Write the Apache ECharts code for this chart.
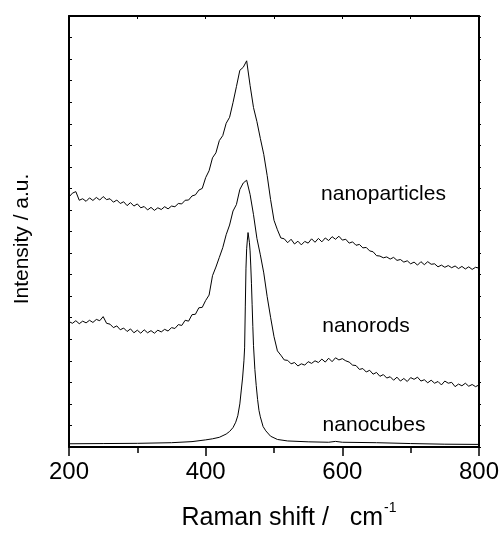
<!DOCTYPE html>
<html>
<head>
<meta charset="utf-8">
<script src="https://cdn.jsdelivr.net/npm/echarts@6/dist/echarts.min.js"></script>
<style>html,body{margin:0;padding:0;background:#fff}#c{width:504px;height:536px}</style>
</head>
<body>
<div id="c"></div>
<script>
// Raman shift grid (cm^-1) for the two broad spectra
var shift = [200,205,210,215,220,225,230,235,240,245,250,255,260,265,270,275,280,285,290,295,
300,305,310,315,320,325,330,335,340,345,350,355,360,365,370,375,380,385,390,395,
400,405,410,415,420,425,430,435,440,445,450,455,460,465,470,475,480,485,490,495,
500,505,510,515,520,525,530,535,540,545,550,555,560,565,570,575,580,585,590,595,
600,605,610,615,620,625,630,635,640,645,650,655,660,665,670,675,680,685,690,695,
700,705,710,715,720,725,730,735,740,745,750,755,760,765,770,775,780,785,790,795,800];

var nanoparticles = [11.60,11.78,11.85,11.45,11.52,11.40,11.56,11.44,11.58,11.46,11.62,11.48,11.52,11.36,11.46,11.30,11.38,11.20,11.34,11.18,
11.28,11.10,11.16,11.00,11.12,10.98,11.10,11.02,11.15,11.05,11.18,11.15,11.30,11.28,11.45,11.46,11.65,11.70,11.92,12.00,
12.50,12.82,13.42,13.65,14.22,14.45,15.02,15.30,15.98,16.72,17.48,17.62,17.92,16.78,15.75,15.10,14.32,13.58,12.60,11.48,
10.52,10.08,9.70,9.66,9.48,9.64,9.42,9.55,9.38,9.54,9.46,9.66,9.50,9.68,9.52,9.70,9.58,9.76,9.64,9.78,
9.60,9.64,9.46,9.52,9.36,9.40,9.24,9.26,9.10,9.06,8.88,8.86,8.78,8.82,8.72,8.80,8.66,8.70,8.58,8.64,
8.50,8.58,8.44,8.60,8.46,8.60,8.48,8.50,8.36,8.44,8.34,8.42,8.32,8.40,8.28,8.38,8.26,8.36,8.24,8.34,8.30];

var nanorods = [5.82,5.74,5.86,5.72,5.84,5.76,5.88,5.78,5.92,5.86,6.05,5.74,5.70,5.54,5.62,5.44,5.52,5.36,5.48,5.30,
5.42,5.28,5.44,5.30,5.40,5.28,5.42,5.34,5.46,5.38,5.54,5.50,5.68,5.64,5.88,5.84,6.14,6.16,6.46,6.48,
6.80,7.05,7.95,8.35,8.80,9.25,9.85,10.30,10.95,11.25,11.95,12.25,12.38,11.72,10.78,9.68,8.92,8.08,6.98,6.02,
5.12,4.46,4.26,4.04,4.02,3.86,3.92,3.76,3.86,3.80,3.96,3.88,4.00,3.92,4.08,3.94,4.12,3.96,4.14,4.04,
4.10,4.00,3.94,3.80,3.78,3.60,3.64,3.48,3.56,3.38,3.46,3.28,3.36,3.20,3.26,3.10,3.24,3.06,3.18,3.04,
3.22,3.14,3.24,3.06,3.12,2.98,3.10,2.96,3.04,2.88,3.06,2.96,3.00,2.80,2.92,2.84,2.96,2.82,2.90,2.80,2.88];

// Nanocubes: sharp peak, denser sampling near 462 cm^-1
var cubeShift = [200,250,300,350,380,400,410,420,430,435,440,444,447,450,452,454,456,457,458,459,
460,461,462,463,464,465,466,467,468,469,470,472,474,476,478,480,484,488,495,505,
520,550,580,590,600,650,700,750,800];
var nanocubes = [0.15,0.16,0.17,0.20,0.25,0.33,0.38,0.45,0.60,0.72,0.90,1.15,1.45,2.00,2.60,3.20,4.00,4.60,6.50,8.30,
9.20,9.60,9.95,9.90,9.50,9.10,8.40,7.60,6.60,5.60,4.70,3.60,2.85,2.20,1.70,1.40,0.95,0.75,0.50,0.35,
0.28,0.24,0.22,0.26,0.22,0.20,0.16,0.13,0.12];

var seriesNames = ['nanoparticles','nanorods','nanocubes'];
var xTitle = 'Raman shift /   cm';
var yTitle = 'Intensity / a.u.';

function pairs(xs, ys){ var out=[]; for(var i=0;i<xs.length;i++) out.push([xs[i], ys[i]]); return out; }

var FONT = '"Liberation Sans", Arial, sans-serif';
var chart = echarts.init(document.getElementById('c'), null, {renderer:'canvas'});
var axisLine = {show:true, onZero:false, lineStyle:{color:'#000', width:2}};

chart.setOption({
  animation:false,
  backgroundColor:'#fff',
  grid:{left:69, right:25, top:16, bottom:87, containLabel:false},
  xAxis:[{
    type:'value', min:200, max:800, interval:200, position:'bottom',
    axisLine:axisLine,
    axisTick:{show:true, inside:false, length:9, lineStyle:{color:'#000', width:1.5}},
    minorTick:{show:true, splitNumber:2, length:6, lineStyle:{color:'#000', width:1.5}},
    splitLine:{show:false},
    axisLabel:{color:'#000', fontSize:24, fontFamily:FONT, margin:13},
    name:'{a|' + xTitle + '}{b|-1}', nameLocation:'middle', nameGap:54,
    nameTextStyle:{color:'#000', fontFamily:FONT, padding:[0,0,0,30],
      rich:{a:{fontSize:25, fontFamily:FONT, color:'#000', lineHeight:30, verticalAlign:'bottom'},
            b:{fontSize:14, fontFamily:FONT, color:'#000', lineHeight:30, verticalAlign:'top', padding:[0,0,14,1]}}}
  },{
    type:'value', min:200, max:800, interval:100, position:'top',
    axisLine:axisLine,
    axisTick:{show:true, inside:true, length:3, lineStyle:{color:'#000', width:1}},
    axisLabel:{show:false}, splitLine:{show:false}
  }],
  yAxis:[{
    type:'value', min:0, max:20, interval:1, position:'left',
    axisLine:axisLine,
    axisTick:{show:true, inside:true, length:3, lineStyle:{color:'#000', width:1}},
    axisLabel:{show:false}, splitLine:{show:false},
    name:yTitle, nameLocation:'middle', nameGap:36,
    nameTextStyle:{color:'#000', fontSize:21, fontFamily:FONT, padding:[0,15,0,0]}
  },{
    type:'value', min:0, max:20, interval:1, position:'right',
    axisLine:axisLine,
    axisTick:{show:true, inside:false, length:2, lineStyle:{color:'#000', width:1}},
    axisLabel:{show:false}, splitLine:{show:false}
  }],
  series:[
    {name:seriesNames[0], type:'line', data:pairs(shift, nanoparticles), showSymbol:false, symbol:'none',
     lineStyle:{color:'#000', width:1}, z:3},
    {name:seriesNames[1], type:'line', data:pairs(shift, nanorods), showSymbol:false, symbol:'none',
     lineStyle:{color:'#000', width:1}, z:3},
    {name:seriesNames[2], type:'line', data:pairs(cubeShift, nanocubes), showSymbol:false, symbol:'none',
     lineStyle:{color:'#000', width:1}, z:3}
  ],
  graphic:[
    {type:'text', x:383.5, y:194, style:{text:seriesNames[0], fill:'#000', fontSize:21, fontFamily:FONT, align:'center', verticalAlign:'middle'}},
    {type:'text', x:366, y:326.5, style:{text:seriesNames[1], fill:'#000', fontSize:21, fontFamily:FONT, align:'center', verticalAlign:'middle'}},
    {type:'text', x:374, y:425, style:{text:seriesNames[2], fill:'#000', fontSize:21, fontFamily:FONT, align:'center', verticalAlign:'middle'}}
  ]
});
</script>
</body>
</html>
